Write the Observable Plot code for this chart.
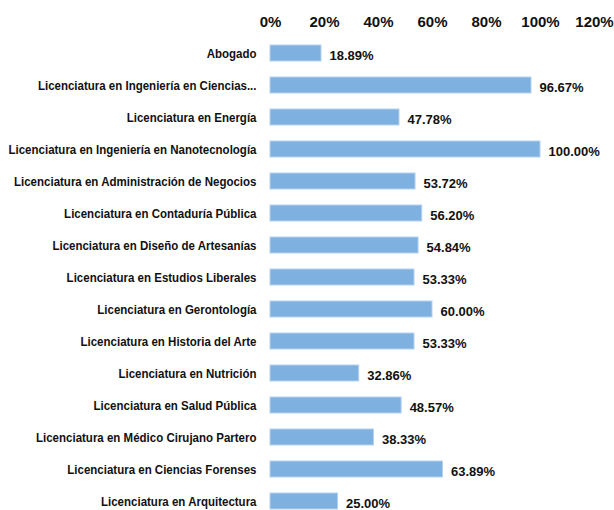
<!DOCTYPE html>
<html>
<head>
<meta charset="utf-8">
<script src="https://cdn.jsdelivr.net/npm/d3@7"></script>
<script src="https://cdn.jsdelivr.net/npm/@observablehq/plot@0.6"></script>
<style>
  html, body { margin: 0; padding: 0; background: #fff; overflow: hidden; }
  #chart svg { display: block; }
</style>
</head>
<body>
<div id="chart"></div>
<script>
const categories = [
  "Abogado",
  "Licenciatura en Ingeniería en Ciencias...",
  "Licenciatura en Energía",
  "Licenciatura en Ingeniería en Nanotecnología",
  "Licenciatura en Administración de Negocios",
  "Licenciatura en Contaduría Pública",
  "Licenciatura en Diseño de Artesanías",
  "Licenciatura en Estudios Liberales",
  "Licenciatura en Gerontología",
  "Licenciatura en Historia del Arte",
  "Licenciatura en Nutrición",
  "Licenciatura en Salud Pública",
  "Licenciatura en Médico Cirujano Partero",
  "Licenciatura en Ciencias Forenses",
  "Licenciatura en Arquitectura"
];
const values = [18.89, 96.67, 47.78, 100.00, 53.72, 56.20, 54.84, 53.33, 60.00, 53.33, 32.86, 48.57, 38.33, 63.89, 25.00];
const xTicks = [0, 20, 40, 60, 80, 100, 120];

const data = categories.map((c, i) => ({category: c, value: values[i]}));

const chart = Plot.plot({
  width: 614,
  height: 510,
  marginLeft: 270,
  marginRight: 20,
  marginTop: 37,
  marginBottom: 0,
  style: {background: "#fff", overflow: "hidden"},
  x: {domain: [0, 120]},
  y: {domain: categories, range: [37, 517], paddingInner: 0.5, paddingOuter: 0.25},
  marks: [
    Plot.ruleX(xTicks, {stroke: "#b3b3b3", strokeWidth: 1.5, y1: 37, y2: 510}),
    Plot.barX(data, {x: "value", y: "category", fill: "#7fb1e0", stroke: "#b5d2ef", strokeWidth: 1}),
    Plot.text(data, {
      x: "value", y: "category",
      text: d => d.value.toFixed(2) + "%",
      textAnchor: "start", dx: 8, dy: 2,
      fill: "#111", fontSize: 13, fontWeight: "bold",
      fontFamily: "'Liberation Sans', Arial, sans-serif"
    }),
    Plot.axisX(xTicks, {
      anchor: "top", tickSize: 0, tickPadding: 11,
      tickFormat: d => d + "%",
      fontSize: 15, fontWeight: "bold", fill: "#111",
      fontFamily: "'Liberation Sans', Arial, sans-serif",
      label: null
    }),
    Plot.axisY({
      anchor: "left", tickSize: 0, tickPadding: 14,
      fontSize: 13.5, fontWeight: "bold", fill: "#111",
      fontFamily: "'Liberation Sans', Arial, sans-serif",
      label: null
    })
  ]
});
document.getElementById("chart").appendChild(chart);

// Condense the category labels (the reference uses a condensed bold face)
const ylabels = Array.from(chart.querySelectorAll('g[aria-label="y-axis tick label"] text'));
const lens = ylabels.map(t => t.getComputedTextLength());
const maxLen = Math.max(...lens);
const factor = Math.min(1, 248 / maxLen);
ylabels.forEach((t, i) => {
  t.setAttribute("textLength", (lens[i] * factor).toFixed(1));
  t.setAttribute("lengthAdjust", "spacingAndGlyphs");
});
</script>
</body>
</html>
